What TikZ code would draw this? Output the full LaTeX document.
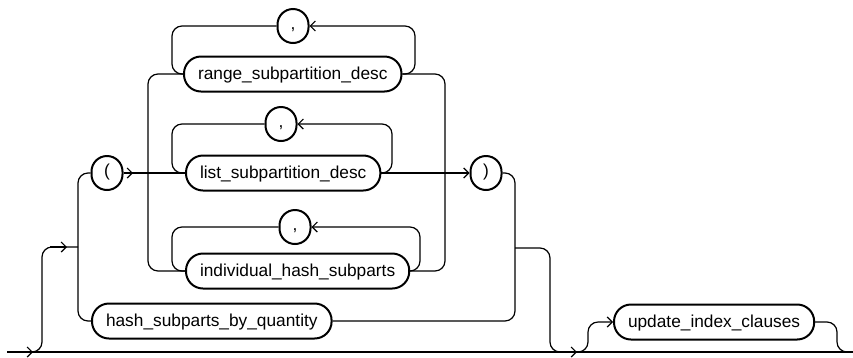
\documentclass[tikz,border=0pt]{standalone}
\usepackage{fontspec}
\setmainfont{Liberation Sans}
\usetikzlibrary{arrows.meta}
\begin{document}
\begin{tikzpicture}[x=1pt,y=-1pt,
 term/.style={draw, line width=2pt, rounded corners=17pt, minimum height=35pt, inner xsep=14pt, inner ysep=0pt, font=\fontsize{17.3}{20}\selectfont, text height=12.5pt, text depth=1pt, anchor=west},
 sym/.style={draw, line width=2pt, rounded corners=15.5pt, minimum width=31pt, minimum height=34pt, inner sep=0pt, font=\fontsize{17.3}{20}\selectfont, text height=11pt, text depth=3.5pt},
 conn/.style={line width=1.2pt, rounded corners=10pt},
 arr/.style={line width=1.2pt, -{Straight Barb[length=5pt,width=10pt]}}
]
\useasboundingbox (0,0) rectangle (853,357);
\node[term] (range) at (183,74) {range\_subpartition\_desc};
\node[term] (list) at (185,173) {list\_subpartition\_desc};
\node[term] (indiv) at (185,271) {individual\_hash\_subparts};
\node[term] (hash) at (91,321) {hash\_subparts\_by\_quantity};
\node[term] (upd) at (613,322) {update\_index\_clauses};
\node[sym] (c1) at (293,26) {,};
\node[sym] (c2) at (281,124) {,};
\node[sym] (c3) at (295,227) {,};
\node[sym] (lp) at (107,173) {(};
\node[sym] (rp) at (486,173) {)};
% coordinates
\coordinate (s) at (7,352);
\coordinate (e) at (853,352);
\coordinate (a0) at (33,352);
\coordinate (b0) at (30,352);
\coordinate (v0) at (42,247);
\coordinate (ja) at (50,247);
\coordinate (jb) at (67,247);
\coordinate (jl) at (78,247);
\coordinate (la) at (133,173);
\coordinate (vl) at (148,173);
\coordinate (vr) at (445,173);
\coordinate (jr) at (515,248);
\coordinate (dr) at (550,352);
\coordinate (ma) at (560,352);
\coordinate (mb) at (577,352);
\coordinate (ua) at (576,352);
\coordinate (ub) at (588,322);
\coordinate (ue) at (837,352);
\coordinate (uf) at (849,352);
% main line
\draw[conn] (s) -- (e);
\draw[arr] (s) -- (a0);
% left branch
\draw[conn] (b0) -| (v0) -- (jl);
\draw[arr] (ja) -- (jb);
\draw[conn] (lp.west) -| (jl) |- (hash.west);
\draw[conn] (lp.east) -- (list.west);
\draw[arr] (lp.east) -- (la);
\draw[conn] (range.west) -| (vl) |- (indiv.west);
\draw[conn] (range.east) -| (vr) |- (indiv.east);
\draw[arr] (list.east) -- (rp.west);
% loops
\draw[conn,arr] (range.east) -| (415,26) -- (c1.east);
\draw[conn] (c1.west) -| (172,74) -- (range.west);
\draw[conn,arr] (list.east) -| (392,124) -- (c2.east);
\draw[conn] (c2.west) -| (172,173) -- (list.west);
\draw[conn,arr] (indiv.east) -| (420,227) -- (c3.east);
\draw[conn] (c3.west) -| (172,271) -- (indiv.west);
% right group
\draw[conn] (rp.east) -| (jr) |- (hash.east);
\draw[conn] (jr) -| (dr) -- (ma);
\draw[arr] (ma) -- (mb);
\draw[conn,arr] (ua) -| (ub) -- (upd.west);
\draw[conn] (upd.east) -| (ue) -- (uf);
\end{tikzpicture}
\end{document}
